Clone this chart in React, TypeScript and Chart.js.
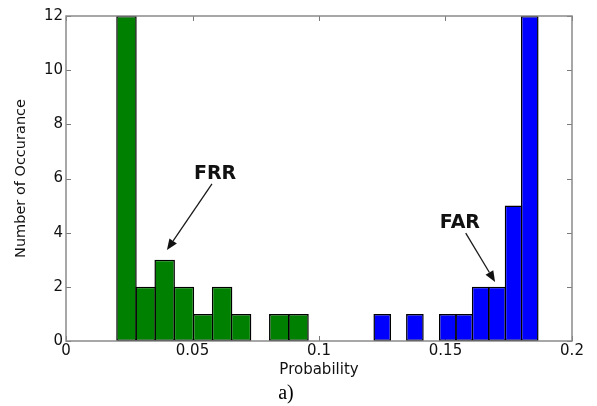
import React, { useEffect, useRef } from 'react';
import { Chart, registerables } from 'chart.js';

Chart.register(...registerables);

// FRR histogram (green): bin centres and counts
const frrBinCenters = [0.0239, 0.0315, 0.039, 0.0466, 0.0542, 0.0617, 0.0692, 0.0768, 0.0843, 0.0919];
const frrCounts = [12, 2, 3, 2, 1, 2, 1, 0, 1, 1];

// FAR histogram (blue): bin centres and counts
const farBinCenters = [0.125, 0.1315, 0.1379, 0.1444, 0.1509, 0.1574, 0.1639, 0.1704, 0.1769, 0.1833];
const farCounts = [1, 0, 1, 0, 1, 1, 2, 2, 5, 12];

// Axis ticks
const xTickValues = [0, 0.05, 0.1, 0.15, 0.2];
const xTickLabels = ['0', '0.05', '0.1', '0.15', '0.2'];
const yTickValues = [0, 2, 4, 6, 8, 10, 12];
const yTickLabels = ['0', '2', '4', '6', '8', '10', '12'];

// Annotations (data coordinates)
const annotationLabels = ['FRR', 'FAR'];
const annotationTextPos = [[0.0589, 6.17], [0.1557, 4.35]];
const annotationArrowFrom = [[0.0577, 5.8], [0.158, 3.98]];
const annotationArrowTo = [[0.0399, 3.36], [0.1696, 2.18]];

const TEXT = '#111111';
const SANS = '"DejaVu Sans", sans-serif';

const framePlugin = {
  id: 'frameTicks',
  beforeDatasetsDraw(chart: any) {
    const { ctx, chartArea, scales } = chart;
    const { left, right, top, bottom } = chartArea;
    const x = scales.x;
    const y = scales.y;
    const L = 5;
    ctx.save();
    ctx.strokeStyle = '#7a7a7a';
    ctx.lineWidth = 1;
    ctx.beginPath();
    xTickValues.forEach((v) => {
      const px = Math.round(x.getPixelForValue(v)) + 0.5;
      ctx.moveTo(px, bottom);
      ctx.lineTo(px, bottom - L);
      ctx.moveTo(px, top);
      ctx.lineTo(px, top + L);
    });
    yTickValues.forEach((v) => {
      const py = Math.round(y.getPixelForValue(v)) + 0.5;
      ctx.moveTo(left, py);
      ctx.lineTo(left + L, py);
      ctx.moveTo(right, py);
      ctx.lineTo(right - L, py);
    });
    ctx.stroke();
    ctx.restore();
  },
  afterDatasetsDraw(chart: any) {
    const { ctx, chartArea, scales } = chart;
    const { left, right, top, bottom } = chartArea;
    ctx.save();
    ctx.strokeStyle = '#8a8a8a';
    ctx.lineWidth = 1.5;
    ctx.strokeRect(left, top, right - left, bottom - top);
    ctx.restore();

    const x = scales.x;
    const y = scales.y;
    ctx.save();
    annotationLabels.forEach((label, i) => {
      const tx = x.getPixelForValue(annotationTextPos[i][0]);
      const ty = y.getPixelForValue(annotationTextPos[i][1]);
      ctx.fillStyle = TEXT;
      ctx.font = `bold 19px ${SANS}`;
      ctx.textAlign = 'center';
      ctx.textBaseline = 'middle';
      ctx.fillText(label, tx, ty);

      const fx = x.getPixelForValue(annotationArrowFrom[i][0]);
      const fy = y.getPixelForValue(annotationArrowFrom[i][1]);
      const ex = x.getPixelForValue(annotationArrowTo[i][0]);
      const ey = y.getPixelForValue(annotationArrowTo[i][1]);
      const ang = Math.atan2(ey - fy, ex - fx);
      const head = 11;
      const hw = 4.5;
      const bx = ex - head * Math.cos(ang);
      const by = ey - head * Math.sin(ang);
      ctx.strokeStyle = '#1a1a1a';
      ctx.lineWidth = 1.3;
      ctx.beginPath();
      ctx.moveTo(fx, fy);
      ctx.lineTo(bx, by);
      ctx.stroke();
      ctx.fillStyle = '#111';
      ctx.beginPath();
      ctx.moveTo(ex, ey);
      ctx.lineTo(bx + hw * Math.sin(ang), by - hw * Math.cos(ang));
      ctx.lineTo(bx - hw * Math.sin(ang), by + hw * Math.cos(ang));
      ctx.closePath();
      ctx.fill();
    });
    ctx.restore();
  },
};

export default function App() {
  const canvasRef = useRef<HTMLCanvasElement | null>(null);

  useEffect(() => {
    document.body.style.margin = '0';
    const canvas = canvasRef.current;
    if (!canvas) return;

    const chart = new Chart(canvas, {
      type: 'bar',
      data: {
        datasets: [
          {
            label: 'FRR',
            data: frrBinCenters.map((c, i) => ({ x: c, y: frrCounts[i] })),
            xAxisID: 'x',
            yAxisID: 'y',
            backgroundColor: '#008000',
            borderColor: '#000000',
            borderWidth: 1.5,
            borderSkipped: false,
            grouped: false,
            categoryPercentage: 1,
            barPercentage: 1.08,
          } as any,
          {
            label: 'FAR',
            data: farBinCenters.map((c, i) => ({ x: c, y: farCounts[i] })),
            xAxisID: 'x2',
            yAxisID: 'y',
            backgroundColor: '#0000ff',
            borderColor: '#000000',
            borderWidth: 1.5,
            borderSkipped: false,
            grouped: false,
            categoryPercentage: 1,
            barPercentage: 1.09,
          } as any,
        ],
      },
      options: {
        animation: false,
        responsive: false,
        maintainAspectRatio: false,
        layout: { padding: { left: 0, right: 25, top: 16, bottom: 0 } },
        plugins: {
          legend: { display: false },
          tooltip: { enabled: false },
          title: {
            display: true,
            position: 'bottom',
            text: 'a)',
            color: '#000',
            font: { family: '"Liberation Serif", serif', size: 20, weight: 'normal' },
            padding: { top: 4, bottom: 0 },
          },
        },
        scales: {
          x: {
            type: 'linear',
            min: 0,
            max: 0.2,
            offset: false,
            afterBuildTicks: (s: any) => {
              s.ticks = xTickValues.map((v) => ({ value: v }));
            },
            ticks: {
              callback: (_v: any, i: number) => xTickLabels[i],
              font: { family: SANS, size: 15 },
              color: TEXT,
              padding: 1,
              maxRotation: 0,
              autoSkip: false,
            },
            grid: { display: false, drawTicks: false, offset: false },
            border: { display: false },
            title: {
              display: true,
              text: 'Probability',
              color: TEXT,
              font: { family: SANS, size: 15, lineHeight: 1 },
              padding: { top: 0, bottom: 0 },
            },
            afterFit: (s: any) => {
              s.height = 37;
            },
          },
          x2: {
            type: 'linear',
            min: 0,
            max: 0.2,
            offset: false,
            grid: { offset: false },
            display: false,
          },
          y: {
            type: 'linear',
            min: 0,
            max: 12,
            afterBuildTicks: (s: any) => {
              s.ticks = yTickValues.map((v) => ({ value: v }));
            },
            ticks: {
              callback: (_v: any, i: number) => yTickLabels[i],
              font: { family: SANS, size: 15 },
              color: TEXT,
              padding: 3,
            },
            grid: { display: false, drawTicks: false },
            border: { display: false },
            title: {
              display: true,
              text: 'Number of Occurance',
              color: TEXT,
              font: { family: SANS, size: 14.5 },
              padding: { top: 13, bottom: 0 },
            },
            afterFit: (s: any) => {
              s.width = 66;
            },
          },
        },
      } as any,
      plugins: [framePlugin],
    });

    return () => chart.destroy();
  }, []);

  return (
    <div style={{ width: 597, height: 406 }}>
      <canvas ref={canvasRef} width={597} height={406} style={{ display: 'block' }} />
    </div>
  );
}
